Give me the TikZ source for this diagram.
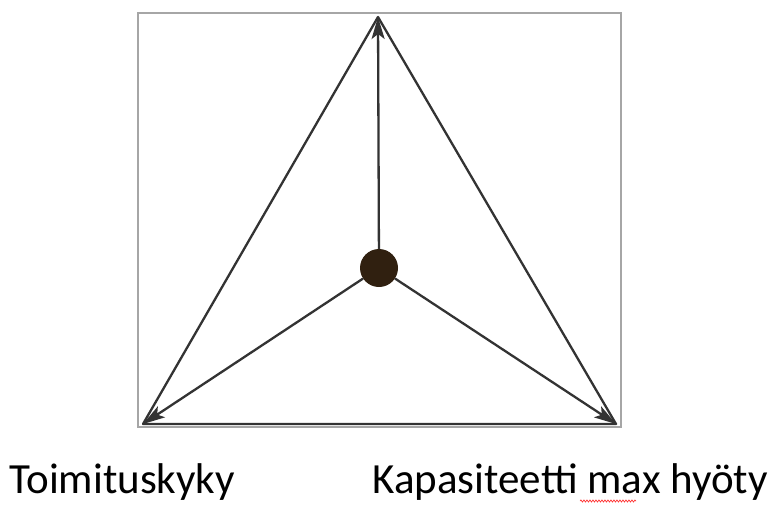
\documentclass[tikz,border=0pt]{standalone}
\usepackage{fontspec}
\setmainfont{Carlito}
\usetikzlibrary{arrows.meta,decorations.pathmorphing}

\begin{document}
\begin{tikzpicture}[x=1pt,y=-1pt,
  edge/.style={draw=black!80, line width=2.3pt},
  spoke/.style={edge, -{Stealth[length=22pt,width=13pt,inset=5pt]}},
  hub/.style={circle, fill=black!75!brown, minimum size=38pt, inner sep=0pt},
  caption/.style={font=\fontsize{43}{47}\selectfont, inner sep=0pt}]

% ------------------------------------------------------------------
% Page size in pixels, origin at the top left corner.
% ------------------------------------------------------------------
\useasboundingbox (0,0) rectangle (773,507);

% Thin gray frame around the triangle.
\draw[gray!70, line width=1.5pt] (138,13) rectangle (621,427);

% Corners of the triangle.
\coordinate (top) at (378,17);
\coordinate (left) at (143,424);
\coordinate (right) at (616,424);

\draw[edge, line join=round] (top) -- (right) -- (left) -- cycle;

% Centre dot with its three arrows.
\node[hub] (centre) at (379,268) {};
\draw[spoke] (centre) -- (top);
\draw[spoke] (centre) -- (left);
\draw[spoke] (centre) -- (right);

% Labels under the picture.
\node[caption, anchor=base west] (supply) at (9,493) {Toimituskyky};
\node[caption, anchor=base east] (capacity) at (768,493)
  {Kapasiteetti max hyöty};

% Spell-check squiggle under "max".
\coordinate (squiggle) at (580,501);
\draw[red!80, line width=0.7pt, decorate,
  decoration={snake, amplitude=1pt, segment length=3pt}]
  (squiggle) -- ++(56,0);
\end{tikzpicture}
\end{document}
